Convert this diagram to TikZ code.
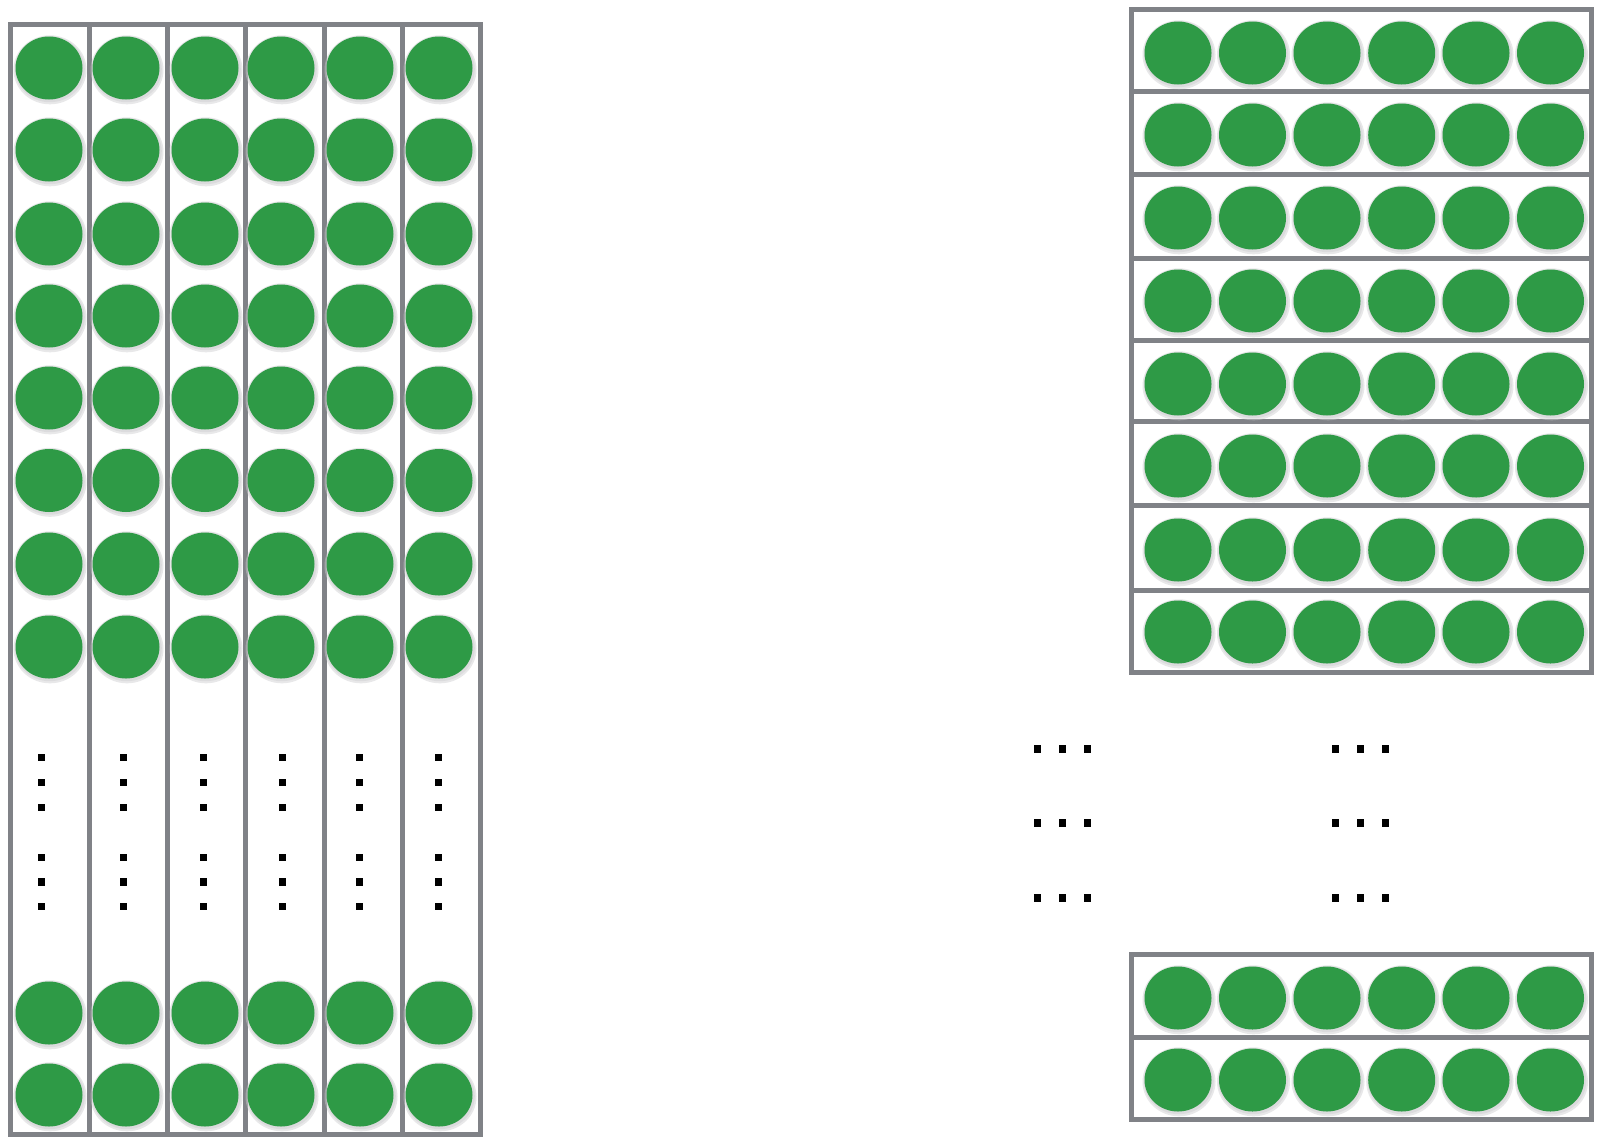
\documentclass[tikz,border=0pt]{standalone}
\usetikzlibrary{shapes.geometric}
\definecolor{dotgreen}{RGB}{46,154,70}
\definecolor{boxgray}{RGB}{128,130,135}
\definecolor{halo}{RGB}{205,205,208}
\tikzset{
  boxline/.style={draw=boxgray, line width=5pt, fill=none},
  counter/.style={ellipse, fill=dotgreen, inner sep=0pt, minimum width=67pt, minimum height=63pt},
  haloshape/.style={ellipse, fill=halo, fill opacity=0.45, inner sep=0pt, minimum width=#1pt, minimum height=#1pt-4pt},
  vdot/.style={rectangle, fill=black, inner sep=0pt, minimum width=7pt, minimum height=7.5pt},
  hdot/.style={rectangle, fill=black, inner sep=0pt, minimum width=6.5pt, minimum height=8pt}
}
\newcommand{\counterat}[3]{%
  \node[haloshape=73] at (#2+1,#3+1.8) {};
  \node[haloshape=70] at (#2+0.8,#3+1.2) {};
  \node[counter] (#1) at (#2,#3) {};
}
\begin{document}
\begin{tikzpicture}[x=1pt,y=-1pt]
\useasboundingbox[fill=white] (0,0) rectangle (1600,1144);
% ---------- left block: 6 columns ----------
\foreach \xa/\xb [count=\c] in {10.5/89,89/167,167/245,245/324,324/402,402/480}{
  \draw[boxline] (\xa,24) rectangle (\xb,1134);
}
\foreach \cx [count=\c] in {49,126,205,281,360,439}{
  \foreach \cy [count=\r] in {68,150,234,316,398,480.5,564,647,1013,1095}{
    \counterat{L-\r-\c}{\cx}{\cy}
  }
}
\foreach \dx [count=\c] in {41.8,123.5,203,282.7,359,438.8}{
  \foreach \dy [count=\k] in {757.7,782.3,807.3,857.3,882,906.7}{
    \node[vdot] (LD-\c-\k) at (\dx,\dy) {};
  }
}
% ---------- right block: 8 rows ----------
\foreach \ya/\yb [count=\r] in {9.5/91.5,91.5/174.5,174.5/258,258/340,340/421.5,421.5/505,505/590,590/672.5}{
  \draw[boxline] (1131.5,\ya) rectangle (1591.5,\yb);
}
\foreach \cy [count=\r] in {53,135,218,301,384,466,550,632}{
  \foreach \cx [count=\c] in {1178,1252.5,1327,1401.7,1476,1550.5}{
    \counterat{R-\r-\c}{\cx}{\cy}
  }
}
% ---------- bottom right: 2 rows ----------
\foreach \ya/\yb [count=\r] in {954/1037,1037/1119}{
  \draw[boxline] (1131.5,\ya) rectangle (1591.5,\yb);
}
\foreach \cy [count=\r] in {998,1080}{
  \foreach \cx [count=\c] in {1178,1252.5,1327,1401.7,1476,1550.5}{
    \counterat{B-\r-\c}{\cx}{\cy}
  }
}
% ---------- horizontal ellipses ----------
\foreach \dy [count=\k] in {749.3,823.3,898.3}{
  \foreach \dx [count=\c] in {1037.7,1062.7,1087.7,1335.7,1360.7,1385.7}{
    \node[hdot] (RD-\k-\c) at (\dx,\dy) {};
  }
}
\end{tikzpicture}
\end{document}
